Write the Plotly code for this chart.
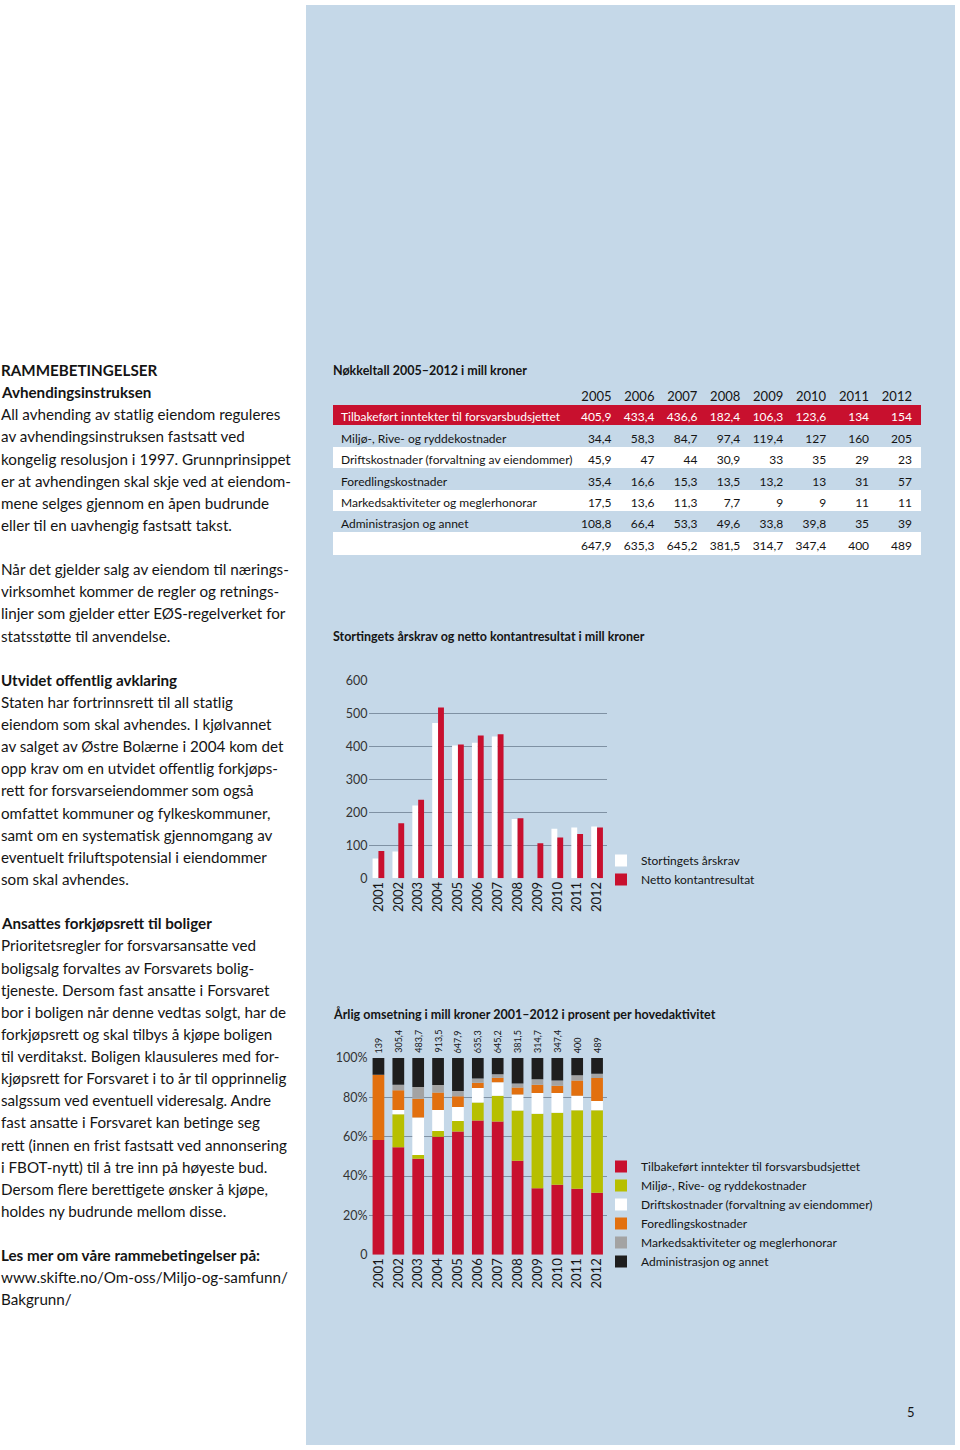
import numpy as np
import plotly.graph_objects as go

# ---------------- data ----------------
years = ["2001", "2002", "2003", "2004", "2005", "2006", "2007", "2008", "2009", "2010", "2011", "2012"]

# Chart 1: Stortingets årskrav og netto kontantresultat (mill kroner)
stortingets_arskrav = [60, 81, 221, 471, 403, 411, 430, 180, 0, 150, 154, 157]
netto_kontantresultat = [83, 167, 238, 518, 405.9, 433.4, 436.6, 182.4, 106.3, 123.6, 134, 154]

# Chart 2: omsetning per hovedaktivitet (mill kroner)
tilbakefort = [81, 167, 236, 548, 405.9, 433.4, 436.6, 182.4, 106.3, 123.6, 134, 154]
miljo = [0, 51, 9.2, 26.5, 34.4, 58.3, 84.7, 97.4, 119.4, 127, 160, 205]
drift = [0, 6.7, 92.4, 97.7, 45.9, 47, 44, 30.9, 33, 35, 29, 23]
foredling = [46.2, 30.5, 46, 81.3, 35.4, 16.6, 15.3, 13.5, 13.2, 13, 31, 57]
marked = [0, 8.6, 29, 34.7, 17.5, 13.6, 11.3, 7.7, 9, 9, 11, 11]
admin = [11.8, 41.6, 71.1, 125.3, 108.8, 66.4, 53.3, 49.6, 33.8, 39.8, 35, 39]
omsetning_total = [139, 305.4, 483.7, 913.5, 647.9, 635.3, 645.2, 381.5, 314.7, 347.4, 400, 489]

# Table: Nøkkeltall 2005-2012
table_years = ["2005", "2006", "2007", "2008", "2009", "2010", "2011", "2012"]
table_labels = [
    "Tilbakeført inntekter til forsvarsbudsjettet",
    "Miljø-, Rive- og ryddekostnader",
    "Driftskostnader (forvaltning av eiendommer)",
    "Foredlingskostnader",
    "Markedsaktiviteter og meglerhonorar",
    "Administrasjon og annet",
    "",
]
t_tilbakefort = [405.9, 433.4, 436.6, 182.4, 106.3, 123.6, 134, 154]
t_miljo = [34.4, 58.3, 84.7, 97.4, 119.4, 127, 160, 205]
t_drift = [45.9, 47, 44, 30.9, 33, 35, 29, 23]
t_foredling = [35.4, 16.6, 15.3, 13.5, 13.2, 13, 31, 57]
t_marked = [17.5, 13.6, 11.3, 7.7, 9, 9, 11, 11]
t_admin = [108.8, 66.4, 53.3, 49.6, 33.8, 39.8, 35, 39]
t_total = [647.9, 635.3, 645.2, 381.5, 314.7, 347.4, 400, 489]

series_names = [
    "Tilbakeført inntekter til forsvarsbudsjettet",
    "Miljø-, Rive- og ryddekostnader",
    "Driftskostnader (forvaltning av eiendommer)",
    "Foredlingskostnader",
    "Markedsaktiviteter og meglerhonorar",
    "Administrasjon og annet",
]

left_lines = [
    ("RAMMEBETINGELSER", True),
    ("Avhendingsinstruksen", True),
    ("All avhending av statlig eiendom reguleres", False),
    ("av avhendingsinstruksen fastsatt ved", False),
    ("kongelig resolusjon i 1997. Grunnprinsippet", False),
    ("er at avhendingen skal skje ved at eiendom-", False),
    ("mene selges gjennom en åpen budrunde", False),
    ("eller til en uavhengig fastsatt takst.", False),
    ("", False),
    ("Når det gjelder salg av eiendom til nærings-", False),
    ("virksomhet kommer de regler og retnings-", False),
    ("linjer som gjelder etter EØS-regelverket for", False),
    ("statsstøtte til anvendelse.", False),
    ("", False),
    ("Utvidet offentlig avklaring", True),
    ("Staten har fortrinnsrett til all statlig", False),
    ("eiendom som skal avhendes. I kjølvannet", False),
    ("av salget av Østre Bolærne i 2004 kom det", False),
    ("opp krav om en utvidet offentlig forkjøps-", False),
    ("rett for forsvarseiendommer som også", False),
    ("omfattet kommuner og fylkeskommuner,", False),
    ("samt om en systematisk gjennomgang av", False),
    ("eventuelt friluftspotensial i eiendommer", False),
    ("som skal avhendes.", False),
    ("", False),
    ("Ansattes forkjøpsrett til boliger", True),
    ("Prioritetsregler for forsvarsansatte ved", False),
    ("boligsalg forvaltes av Forsvarets bolig-", False),
    ("tjeneste. Dersom fast ansatte i Forsvaret", False),
    ("bor i boligen når denne vedtas solgt, har de", False),
    ("forkjøpsrett og skal tilbys å kjøpe boligen", False),
    ("til verditakst. Boligen klausuleres med for-", False),
    ("kjøpsrett for Forsvaret i to år til opprinnelig", False),
    ("salgssum ved eventuell videresalg. Andre", False),
    ("fast ansatte i Forsvaret kan betinge seg", False),
    ("rett (innen en frist fastsatt ved annonsering", False),
    ("i FBOT-nytt) til å tre inn på høyeste bud.", False),
    ("Dersom flere berettigete ønsker å kjøpe,", False),
    ("holdes ny budrunde mellom disse.", False),
    ("", False),
    ("Les mer om våre rammebetingelser på:", True),
    ("www.skifte.no/Om-oss/Miljo-og-samfunn/", False),
    ("Bakgrunn/", False),
]

# ---------------- styling ----------------
W, H = 960, 1450
BLUE = "#c5d8e8"
RED = "#c8102e"
OLIVE = "#b7bf00"
ORANGE = "#e2700f"
GREY = "#a3a3a3"
BLACK = "#1e1e1e"
WHITE = "#ffffff"
TXT = "#141414"
FONT = "Lato"
GRID = "#7f91a3"


def px_x(x):
    return x / W


def px_y(y):
    return 1 - y / H


def fmt(v):
    s = f"{v:g}"
    return s.replace(".", ",")


fig = go.Figure()

# ---------------- Chart 1 ----------------
fig.add_trace(go.Bar(x=years, y=stortingets_arskrav, name="Stortingets årskrav",
                     marker=dict(color=WHITE, line=dict(width=0)),
                     xaxis="x", yaxis="y", legend="legend"))
fig.add_trace(go.Bar(x=years, y=netto_kontantresultat, name="Netto kontantresultat",
                     marker=dict(color=RED, line=dict(width=0)),
                     xaxis="x", yaxis="y", legend="legend"))

# ---------------- Chart 2 (100 % stacked, built with explicit bases) ----------------
comps = [tilbakefort, miljo, drift, foredling, marked, admin]
colors2 = [RED, OLIVE, WHITE, ORANGE, GREY, BLACK]
arr = np.array(comps, dtype=float)
tot = arr.sum(axis=0)
pct = arr / tot * 100
cum = np.zeros(len(years))
for name, vals, col in zip(series_names, pct, colors2):
    fig.add_trace(go.Bar(x=years, y=[float(v) for v in vals], base=[float(b) for b in cum],
                         name=name, offsetgroup="stk", alignmentgroup="stk",
                         marker=dict(color=col, line=dict(width=0)),
                         xaxis="x2", yaxis="y2", legend="legend2"))
    cum = cum + vals

# ---------------- Table ----------------
tcols = [t_tilbakefort, t_miljo, t_drift, t_foredling, t_marked, t_admin, t_total]
row_fill = [RED, BLUE, WHITE, BLUE, WHITE, BLUE, WHITE]
row_font = [WHITE] + [TXT] * 6
cell_values = [[lab.replace(" ", "\u00a0") for lab in table_labels]]
for j in range(len(table_years)):
    cell_values.append([fmt(r[j]) for r in tcols])
ncol = 1 + len(table_years)
fig.add_trace(go.Table(
    domain=dict(x=[px_x(333), px_x(920)], y=[px_y(560), px_y(383)]),
    columnwidth=[244] + [43] * len(table_years),
    header=dict(values=[""] + table_years,
                fill=dict(color=BLUE), line=dict(color=BLUE, width=1),
                align=["left"] + ["right"] * len(table_years),
                font=dict(family=FONT, size=13, color=TXT), height=21.4),
    cells=dict(values=cell_values,
               fill=dict(color=[row_fill] * ncol),
               line=dict(color=[row_fill] * ncol, width=1),
               align=["left"] + ["right"] * len(table_years),
               font=dict(family=FONT, size=12, color=[row_font] * ncol), height=21.4),
))

# ---------------- layout ----------------
axis_common_x = dict(type="category", categoryorder="array", categoryarray=years,
                     range=[-0.5, len(years) - 0.5], autorange=False,
                     showgrid=False, zeroline=False, showline=False,
                     tickangle=-90, ticks="", tickfont=dict(family=FONT, size=13, color=TXT),
                     fixedrange=True, automargin=False)
axis_common_y = dict(showgrid=True, gridcolor=GRID, gridwidth=1, zeroline=False, showline=False,
                     ticks="", tickfont=dict(family=FONT, size=12.5, color="#333333"),
                     fixedrange=True, automargin=False)

shapes = [dict(type="rect", xref="paper", yref="paper", x0=px_x(306), x1=px_x(955),
               y0=px_y(1445), y1=px_y(5), fillcolor=BLUE, line=dict(width=0), layer="below")]

annotations = []
# left text
for i, (txt, bold) in enumerate(left_lines):
    if not txt:
        continue
    annotations.append(dict(
        text=f"<b>{txt}</b>" if bold else txt, xref="paper", yref="paper",
        x=px_x(-1), y=px_y(370 + i * 22.13), xanchor="left", yanchor="middle",
        showarrow=False, font=dict(family=FONT, size=15.2, color=TXT)))

# titles
for txt, y in [("Nøkkeltall 2005–2012 i mill kroner", 371),
               ("Stortingets årskrav og netto kontantresultat i mill kroner", 637),
               ("Årlig omsetning i mill kroner 2001–2012 i prosent per hovedaktivitet", 1014)]:
    annotations.append(dict(text=f"<b>{txt}</b>", xref="paper", yref="paper",
                            x=px_x(331), y=px_y(y), xanchor="left", yanchor="middle",
                            showarrow=False, font=dict(family=FONT, size=12.5, color=TXT)))

# totals above stacked bars (x given as category index)
for i, t in enumerate(omsetning_total):
    annotations.append(dict(text=fmt(t), x=i, y=100, xref="x2", yref="y2",
                            textangle=-90, xanchor="center", yanchor="bottom", yshift=3,
                            showarrow=False, font=dict(family=FONT, size=9, color=TXT)))

# page number
annotations.append(dict(text="5", xref="paper", yref="paper", x=px_x(917), y=px_y(1412),
                        xanchor="right", yanchor="middle", showarrow=False,
                        font=dict(family=FONT, size=13, color=TXT)))

fig.update_layout(
    width=W, height=H,
    margin=dict(l=0, r=0, t=0, b=0, pad=0, autoexpand=False),
    paper_bgcolor="white", plot_bgcolor="rgba(0,0,0,0)",
    separators=", ",
    barmode="group", bargap=0.41, bargroupgap=0,
    font=dict(family=FONT, color=TXT),
    xaxis=dict(domain=[px_x(368.5), px_x(607)], anchor="y", **axis_common_x),
    yaxis=dict(domain=[px_y(878.3), px_y(680.5)], anchor="x", range=[0, 600],
               tickvals=[0, 100, 200, 300, 400, 500, 600], **axis_common_y),
    xaxis2=dict(domain=[px_x(368.5), px_x(607)], anchor="y2", **axis_common_x),
    yaxis2=dict(domain=[px_y(1254.7), px_y(1058)], anchor="x2", range=[0, 100],
                tickvals=[0, 20, 40, 60, 80, 100],
                ticktext=["0", "20%", "40%", "60%", "80%", "100%"], **axis_common_y),
    legend=dict(x=px_x(601), y=px_y(846), xanchor="left", yanchor="top",
                bgcolor="rgba(0,0,0,0)", traceorder="normal",
                font=dict(family=FONT, size=12, color=TXT)),
    legend2=dict(x=px_x(601), y=px_y(1152), xanchor="left", yanchor="top",
                 bgcolor="rgba(0,0,0,0)", traceorder="normal",
                 font=dict(family=FONT, size=12, color=TXT)),
    shapes=shapes,
    annotations=annotations,
    showlegend=True,
)

fig.write_html("out.html",
               config={"displayModeBar": False, "staticPlot": False},
               post_script="document.body.style.margin='0';document.body.style.overflow='hidden';")
